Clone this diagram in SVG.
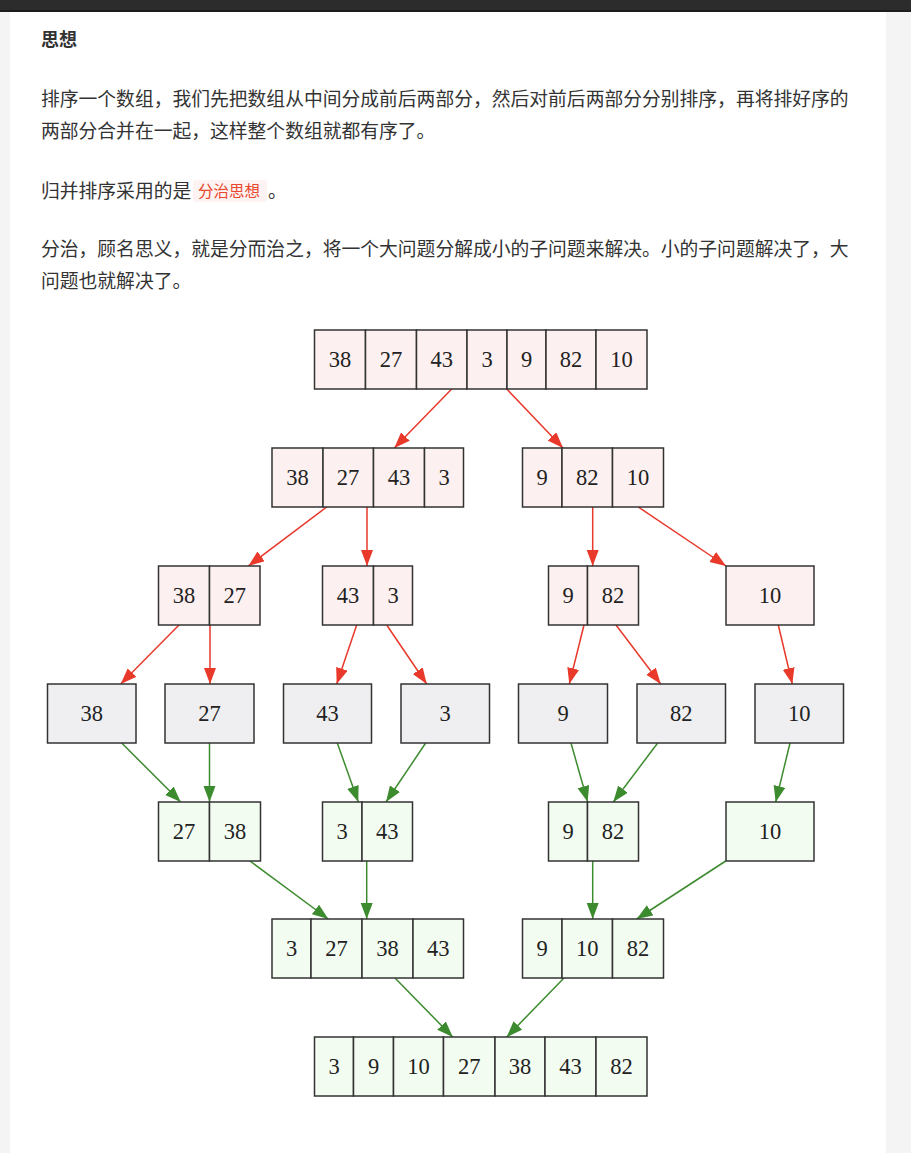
<svg xmlns="http://www.w3.org/2000/svg" width="911" height="1153" viewBox="0 0 911 1153">
<style>
.p{font-family:"Noto Sans CJK SC","Liberation Sans",sans-serif;font-size:18.8px;fill:#333}
.h{font-family:"Noto Sans CJK SC","Liberation Sans",sans-serif;font-size:18px;font-weight:bold;fill:#333}
.code{font-family:"Noto Sans CJK SC","Liberation Sans",sans-serif;font-size:15.5px;fill:#e8472c}
.n{font-family:"Liberation Serif","Times New Roman",serif;font-size:22.5px;fill:#222;text-anchor:middle}
.pk rect{fill:#fdf0f0;stroke:#333;stroke-width:1.5}
.gy rect{fill:#efeff1;stroke:#333;stroke-width:1.5}
.gn rect{fill:#f3fcf1;stroke:#333;stroke-width:1.5}
.red line{stroke:#e8392b;stroke-width:1.5}
.grn line{stroke:#3d8b2f;stroke-width:1.5}
</style>
<defs>
<marker id="ar" markerUnits="userSpaceOnUse" markerWidth="17" markerHeight="13" refX="16" refY="6" orient="auto"><path d="M0,0 L16,6 L0,12 z" fill="#e8392b"/></marker>
<marker id="ag" markerUnits="userSpaceOnUse" markerWidth="17" markerHeight="13" refX="16" refY="6" orient="auto"><path d="M0,0 L16,6 L0,12 z" fill="#3d8b2f"/></marker>
</defs>
<rect x="0" y="0" width="911" height="1153" fill="#f3f4f3"/>
<rect x="10" y="11" width="876" height="1142" fill="#ffffff"/>
<rect x="0" y="0" width="911" height="10" fill="#2c2c2c"/>
<rect x="0" y="10" width="911" height="2" fill="#1c1c1c"/>

<g id="text">
<text class="h" x="41" y="46">思想</text>
<text class="p" x="41" y="106">排序一个数组，我们先把数组从中间分成前后两部分，然后对前后两部分分别排序，再将排好序的</text>
<text class="p" x="41" y="138">两部分合并在一起，这样整个数组就都有序了。</text>
<text class="p" x="41" y="198">归并排序采用的是</text>
<rect x="193" y="180" width="74" height="22" rx="3" fill="#fdf3f3"/>
<text class="code" x="198" y="197">分治思想</text>
<text class="p" x="268" y="198">。</text>
<text class="p" x="41" y="256">分治，顾名思义，就是分而治之，将一个大问题分解成小的子问题来解决。小的子问题解决了，大</text>
<text class="p" x="41" y="288">问题也就解决了。</text>
</g>

<g id="connectors">
<g class="red">
<line x1="451.7" y1="389" x2="394.3" y2="448" marker-end="url(#ar)"/>
<line x1="506.7" y1="389" x2="563" y2="448" marker-end="url(#ar)"/>
<line x1="326.7" y1="507" x2="248.3" y2="566" marker-end="url(#ar)"/>
<line x1="367" y1="507" x2="367" y2="566" marker-end="url(#ar)"/>
<line x1="592.7" y1="507" x2="592.7" y2="566" marker-end="url(#ar)"/>
<line x1="638.3" y1="507" x2="726" y2="566" marker-end="url(#ar)"/>
<line x1="179" y1="625" x2="120.7" y2="684" marker-end="url(#ar)"/>
<line x1="210" y1="625" x2="210" y2="684" marker-end="url(#ar)"/>
<line x1="356.7" y1="625" x2="336.7" y2="684" marker-end="url(#ar)"/>
<line x1="386.7" y1="625" x2="426.7" y2="684" marker-end="url(#ar)"/>
<line x1="584" y1="625" x2="569.3" y2="684" marker-end="url(#ar)"/>
<line x1="616" y1="625" x2="660.7" y2="684" marker-end="url(#ar)"/>
<line x1="778.3" y1="625" x2="792.3" y2="684" marker-end="url(#ar)"/>
</g>
<g class="grn">
<line x1="121.7" y1="743" x2="180.7" y2="802" marker-end="url(#ag)"/>
<line x1="209.5" y1="743" x2="209.5" y2="802" marker-end="url(#ag)"/>
<line x1="337.3" y1="743" x2="358.3" y2="802" marker-end="url(#ag)"/>
<line x1="425.7" y1="743" x2="386" y2="802" marker-end="url(#ag)"/>
<line x1="571" y1="743" x2="587.7" y2="802" marker-end="url(#ag)"/>
<line x1="657.7" y1="743" x2="613.3" y2="802" marker-end="url(#ag)"/>
<line x1="790" y1="743" x2="775.7" y2="802" marker-end="url(#ag)"/>
<line x1="250" y1="861" x2="328.3" y2="919" marker-end="url(#ag)"/>
<line x1="366.7" y1="861" x2="366.7" y2="919" marker-end="url(#ag)"/>
<line x1="592.7" y1="861" x2="592.7" y2="919" marker-end="url(#ag)"/>
<line x1="725.7" y1="861" x2="636.7" y2="919" marker-end="url(#ag)"/>
<line x1="395" y1="978" x2="452.7" y2="1037" marker-end="url(#ag)"/>
<line x1="564" y1="978" x2="506.7" y2="1037" marker-end="url(#ag)"/>
</g>
</g>

<g id="n1" class="pk">
<rect x="314.5" y="330" width="51" height="59"/><rect x="365.5" y="330" width="51" height="59"/><rect x="416.5" y="330" width="50.5" height="59"/><rect x="467" y="330" width="40" height="59"/><rect x="507" y="330" width="39" height="59"/><rect x="546" y="330" width="50" height="59"/><rect x="596" y="330" width="51" height="59"/>
<text class="n" x="340" y="367">38</text><text class="n" x="391" y="367">27</text><text class="n" x="441.7" y="367">43</text><text class="n" x="487" y="367">3</text><text class="n" x="526.5" y="367">9</text><text class="n" x="571" y="367">82</text><text class="n" x="621.5" y="367">10</text>
</g>

<g id="n2a" class="pk">
<rect x="272" y="448" width="51" height="59"/><rect x="323" y="448" width="50.5" height="59"/><rect x="373.5" y="448" width="51" height="59"/><rect x="424.5" y="448" width="39" height="59"/>
<text class="n" x="297.5" y="485">38</text><text class="n" x="348" y="485">27</text><text class="n" x="399" y="485">43</text><text class="n" x="444" y="485">3</text>
</g>
<g id="n2b" class="pk">
<rect x="522.5" y="448" width="39.5" height="59"/><rect x="562" y="448" width="50.5" height="59"/><rect x="612.5" y="448" width="51" height="59"/>
<text class="n" x="542.2" y="485">9</text><text class="n" x="587.2" y="485">82</text><text class="n" x="638" y="485">10</text>
</g>

<g id="n3a" class="pk">
<rect x="158.5" y="566" width="51" height="59"/><rect x="209.5" y="566" width="50.5" height="59"/>
<text class="n" x="184" y="603">38</text><text class="n" x="234.7" y="603">27</text>
</g>
<g id="n3b" class="pk">
<rect x="322.5" y="566" width="51" height="59"/><rect x="373.5" y="566" width="39" height="59"/>
<text class="n" x="348" y="603">43</text><text class="n" x="393" y="603">3</text>
</g>
<g id="n3c" class="pk">
<rect x="548.5" y="566" width="39" height="59"/><rect x="587.5" y="566" width="51" height="59"/>
<text class="n" x="568" y="603">9</text><text class="n" x="613" y="603">82</text>
</g>
<g id="n3d" class="pk">
<rect x="726" y="566" width="88" height="59"/>
<text class="n" x="770" y="603">10</text>
</g>

<g id="n4a" class="gy"><rect x="47.5" y="684" width="88.5" height="59"/><text class="n" x="91.7" y="721">38</text></g>
<g id="n4b" class="gy"><rect x="165" y="684" width="89" height="59"/><text class="n" x="209.5" y="721">27</text></g>
<g id="n4c" class="gy"><rect x="283.5" y="684" width="88" height="59"/><text class="n" x="327.5" y="721">43</text></g>
<g id="n4d" class="gy"><rect x="401" y="684" width="88.5" height="59"/><text class="n" x="445.2" y="721">3</text></g>
<g id="n4e" class="gy"><rect x="518.5" y="684" width="89" height="59"/><text class="n" x="563" y="721">9</text></g>
<g id="n4f" class="gy"><rect x="637" y="684" width="88.5" height="59"/><text class="n" x="681.2" y="721">82</text></g>
<g id="n4g" class="gy"><rect x="755" y="684" width="88.5" height="59"/><text class="n" x="799.2" y="721">10</text></g>

<g id="n5a" class="gn">
<rect x="158.5" y="802" width="51" height="59"/><rect x="209.5" y="802" width="51" height="59"/>
<text class="n" x="184" y="839">27</text><text class="n" x="235" y="839">38</text>
</g>
<g id="n5b" class="gn">
<rect x="322.5" y="802" width="39.5" height="59"/><rect x="362" y="802" width="50.5" height="59"/>
<text class="n" x="342.2" y="839">3</text><text class="n" x="387.2" y="839">43</text>
</g>
<g id="n5c" class="gn">
<rect x="548.5" y="802" width="39" height="59"/><rect x="587.5" y="802" width="51" height="59"/>
<text class="n" x="568" y="839">9</text><text class="n" x="613" y="839">82</text>
</g>
<g id="n5d" class="gn">
<rect x="726" y="802" width="88" height="59"/>
<text class="n" x="770" y="839">10</text>
</g>

<g id="n6a" class="gn">
<rect x="272" y="919" width="39" height="59"/><rect x="311" y="919" width="51" height="59"/><rect x="362" y="919" width="51" height="59"/><rect x="413" y="919" width="50.5" height="59"/>
<text class="n" x="291.5" y="956">3</text><text class="n" x="336.5" y="956">27</text><text class="n" x="387.5" y="956">38</text><text class="n" x="438.2" y="956">43</text>
</g>
<g id="n6b" class="gn">
<rect x="522.5" y="919" width="39.5" height="59"/><rect x="562" y="919" width="50.5" height="59"/><rect x="612.5" y="919" width="51" height="59"/>
<text class="n" x="542.2" y="956">9</text><text class="n" x="587.2" y="956">10</text><text class="n" x="638" y="956">82</text>
</g>

<g id="n7" class="gn">
<rect x="314.5" y="1037" width="39" height="59"/><rect x="353.5" y="1037" width="40" height="59"/><rect x="393.5" y="1037" width="50" height="59"/><rect x="443.5" y="1037" width="51.5" height="59"/><rect x="495" y="1037" width="50" height="59"/><rect x="545" y="1037" width="51" height="59"/><rect x="596" y="1037" width="51" height="59"/>
<text class="n" x="334" y="1074">3</text><text class="n" x="373.5" y="1074">9</text><text class="n" x="418.5" y="1074">10</text><text class="n" x="469.2" y="1074">27</text><text class="n" x="520" y="1074">38</text><text class="n" x="570.5" y="1074">43</text><text class="n" x="621.5" y="1074">82</text>
</g>
</svg>
